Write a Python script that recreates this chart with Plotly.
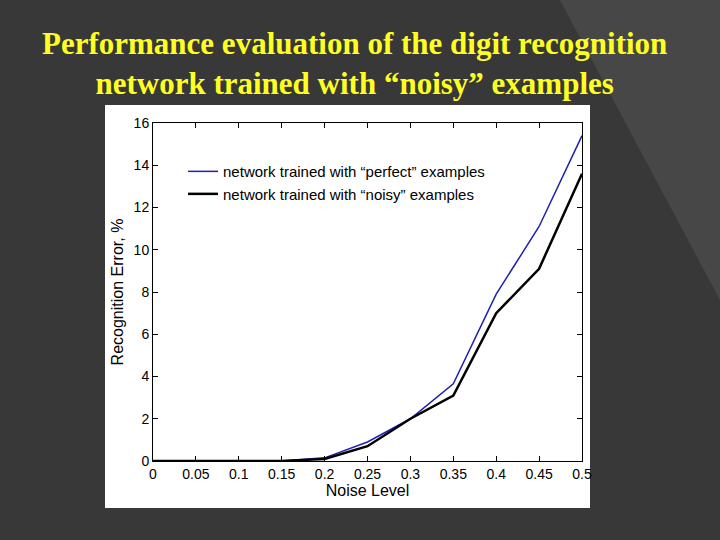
import plotly.graph_objects as go

noise = [0, 0.05, 0.1, 0.15, 0.2, 0.25, 0.3, 0.35, 0.4, 0.45, 0.5]
perfect = [0, 0, 0, 0, 0.15, 0.9, 2.0, 3.65, 7.9, 11.1, 15.4]
noisy = [0, 0, 0, 0, 0.1, 0.7, 2.0, 3.1, 7.0, 9.1, 13.6]
xticks = [0, 0.05, 0.1, 0.15, 0.2, 0.25, 0.3, 0.35, 0.4, 0.45, 0.5]
yticks = [0, 2, 4, 6, 8, 10, 12, 14, 16]

fig = go.Figure()
fig.add_trace(go.Scatter(x=noise, y=perfect, mode="lines", line=dict(color="#2020b0", width=1.5),
                         name="network trained with “perfect” examples"))
fig.add_trace(go.Scatter(x=noise, y=noisy, mode="lines", line=dict(color="black", width=2.5),
                         name="network trained with “noisy” examples"))

W, H = 720, 540
px = lambda x: (x-153)/(582-153)
py = lambda y: (461-y)/(461-123)
fig.add_shape(type="path", xref="paper", yref="paper",
              path=f"M {px(560)} {py(0)} L {px(720)} {py(0)} L {px(720)} {py(300)} Z",
              fillcolor="#474747", line=dict(width=0), layer="below")
fig.add_shape(type="rect", xref="paper", yref="paper",
              x0=px(105), x1=px(590), y0=py(508), y1=py(105),
              fillcolor="white", line=dict(width=0), layer="below")

ax = dict(showline=True, linecolor="black", mirror="ticks", ticks="inside", ticklen=5,
          tickcolor="black", showgrid=False, zeroline=False,
          tickfont=dict(family="Liberation Sans, Arial", size=14, color="black"))
fig.update_xaxes(**ax, range=[0, 0.5], tickvals=xticks, ticktext=[f"{v:g}" for v in xticks],
                 title=dict(text="Noise Level", font=dict(family="Liberation Sans", size=16, color="black"), standoff=4))
fig.update_yaxes(**ax, range=[0, 16], tickvals=yticks,
                 title=dict(text="Recognition Error, %", font=dict(family="Liberation Sans", size=16, color="black"), standoff=6))

fig.update_layout(
    width=W, height=H, paper_bgcolor="#383838", plot_bgcolor="white",
    margin=dict(l=153, r=138, t=123, b=79),
    legend=dict(x=0.07, y=0.905, xanchor="left", yanchor="top", bgcolor="rgba(0,0,0,0)",
                tracegroupgap=0, font=dict(family="Liberation Sans", size=15, color="black")),
    annotations=[dict(text="<b>Performance evaluation of the digit recognition<br>network trained with “noisy” examples</b>",
                      xref="paper", yref="paper", x=px(354), y=py(24), xanchor="center", yanchor="top",
                      showarrow=False, align="center",
                      font=dict(family="Liberation Serif, Times New Roman", size=31, color="#ffff22"))],
)
fig.write_html("out.html", config={"displayModeBar": False},
               post_script="document.body.style.margin='0';document.body.style.background='#383838';")
